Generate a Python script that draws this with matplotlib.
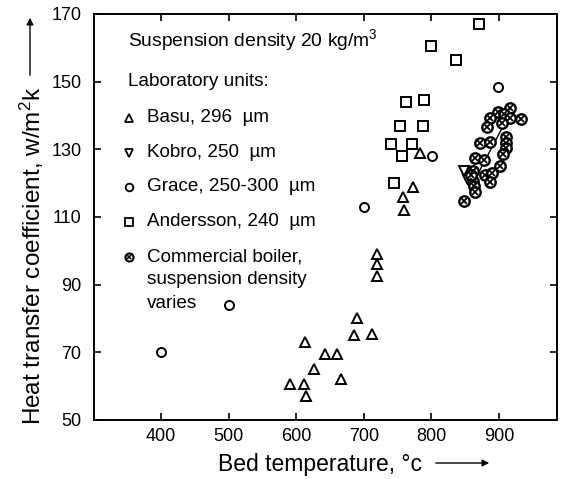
import matplotlib
matplotlib.use('Agg')
import matplotlib.pyplot as plt

plt.rcParams['font.family'] = ['Liberation Sans', 'DejaVu Sans']
plt.rcParams['mathtext.fontset'] = 'custom'
plt.rcParams['mathtext.rm'] = 'Liberation Sans'
plt.rcParams['mathtext.it'] = 'Liberation Sans:italic'

# data (bed temperature, heat transfer coefficient)
basu_x = [591, 612, 614, 626, 613, 642, 660, 667, 686, 690, 712, 720, 720, 720, 759, 758, 773, 784]
basu_y = [60.5, 60.5, 57, 65, 73, 69.5, 69.5, 62, 75, 80, 75.5, 92.5, 96, 99, 112, 116, 119, 129]

kobro_x = [849, 855]
kobro_y = [123.5, 121]

grace_x = [400, 500, 700, 801, 898]
grace_y = [70, 84, 113, 128, 148.5]

andersson_x = [870, 800, 837, 762, 789, 753, 787, 741, 772, 757, 745]
andersson_y = [167, 160.5, 156.5, 144, 144.5, 137, 137, 131.5, 131.5, 128, 120]

boiler_x = [916, 898, 908, 887, 916, 932, 883, 905, 911, 911, 910, 906, 872, 887,
            864, 878, 902, 862, 880, 890, 887, 861, 863, 865, 849, 858]
boiler_y = [142.3, 140.9, 140.4, 139.3, 139.2, 139, 136.7, 137.7, 133.7, 131.8, 130.3, 128.5, 131.8, 132.3,
            127.5, 126.8, 125.2, 123.6, 122.4, 122.9, 120.4, 120.6, 119.2, 117.3, 114.7, 122.4]

trend_x = [859, 908]
trend_y = [119, 137.5]

xticks = [400, 500, 600, 700, 800, 900]
yticks = [50, 70, 90, 110, 130, 150, 170]

fig = plt.figure(figsize=(5.61, 4.79), dpi=100)
ax = fig.add_axes([0.1676, 0.1232, 0.8253, 0.8476])

ax.plot(trend_x, trend_y, color='black', lw=1.0, zorder=2)
ax.plot(basu_x, basu_y, ls='none', marker='^', ms=7, mfc='white', mec='black', mew=1.4, zorder=3)
ax.plot(kobro_x, kobro_y, ls='none', marker='v', ms=7, mfc='white', mec='black', mew=1.4, zorder=3)
ax.plot(grace_x, grace_y, ls='none', marker='o', ms=6.5, mfc='white', mec='black', mew=1.4, zorder=3)
ax.plot(andersson_x, andersson_y, ls='none', marker='s', ms=7, mfc='white', mec='black', mew=1.4, zorder=3)
ax.plot(boiler_x, boiler_y, ls='none', marker='o', ms=7.5, mfc='white', mec='black', mew=1.7, zorder=4)
ax.plot(boiler_x, boiler_y, ls='none', marker='x', ms=3.8, mec='black', mew=1.3, zorder=5)

ax.set_xlim(301, 986)
ax.set_ylim(50, 170)
ax.set_xticks(xticks)
ax.set_yticks(yticks)
ax.tick_params(direction='in', length=5, width=1.2, labelsize=13, top=True, right=True,
               labelright=False, labeltop=False)
ax.tick_params(axis='y', pad=9)
ax.tick_params(axis='x', pad=6)
for s in ax.spines.values():
    s.set_linewidth(1.4)

# legend drawn by hand
tr = ax.transAxes
ax.text(0.0734, 0.936, 'Suspension density 20 kg/m$^3$', transform=tr, fontsize=13.9, va='center')
ax.text(0.0734, 0.8325, 'Laboratory units:', transform=tr, fontsize=13.7, va='center')
entries = [('^', 'Basu, 296  µm', 0.744),
           ('v', 'Kobro, 250  µm', 0.658),
           ('o', 'Grace, 250-300  µm', 0.574),
           ('s', 'Andersson, 240  µm', 0.488)]
for m, lab, yy in entries:
    ax.plot([0.0756], [yy], transform=tr, ls='none', marker=m, ms=5.5, mfc='white', mec='black', mew=1.3)
    ax.text(0.1145, yy, lab, transform=tr, fontsize=13.6, va='center')
ax.plot([0.0756], [0.401], transform=tr, ls='none', marker='o', ms=5.8, mfc='white', mec='black', mew=1.5)
ax.plot([0.0756], [0.401], transform=tr, ls='none', marker='x', ms=2.8, mec='black', mew=1.1)
for lab, yy in [('Commercial boiler,', 0.401), ('suspension density', 0.345), ('varies', 0.288)]:
    ax.text(0.1145, yy, lab, transform=tr, fontsize=13.6, va='center')

# axis labels with arrows
fig.text(320 / 561, 1 - 464 / 479, 'Bed temperature, °c', fontsize=16.5, ha='center', va='center')
fig.add_artist(matplotlib.patches.FancyArrowPatch((433 / 561, 1 - 463 / 479), (492 / 561, 1 - 463 / 479),
               transform=fig.transFigure, arrowstyle='-|>', mutation_scale=10, color='black', lw=1.0))
fig.text(32 / 561, 1 - 256 / 479, 'Heat transfer coefficient, w/m$^2$k', fontsize=17.5,
         rotation=90, ha='center', va='center')
fig.add_artist(matplotlib.patches.FancyArrowPatch((30 / 561, 1 - 78 / 479), (30 / 561, 1 - 15 / 479),
               transform=fig.transFigure, arrowstyle='-|>', mutation_scale=10, color='black', lw=1.0))

fig.savefig('out.png', dpi=100)
